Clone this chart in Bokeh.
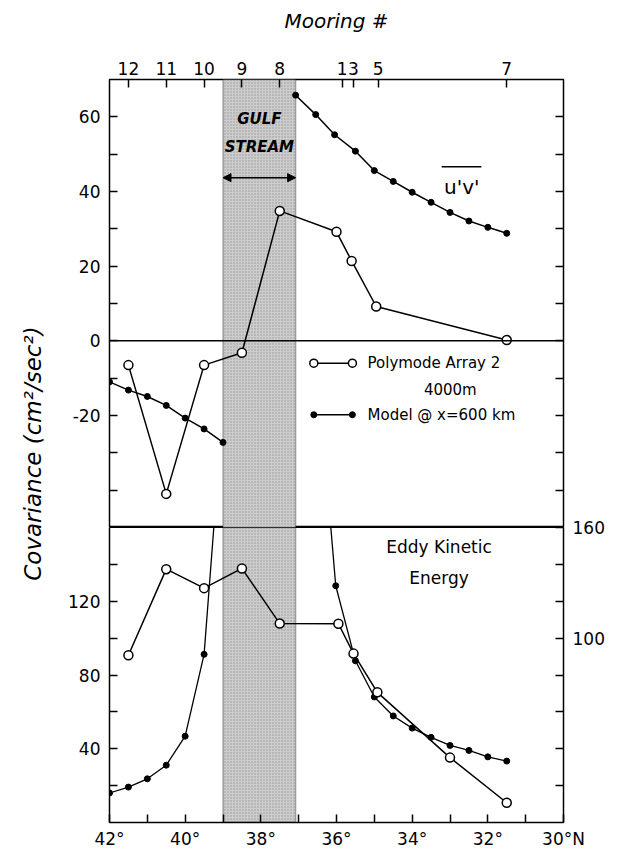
import math
from bokeh.plotting import figure
from bokeh.models import (Range1d, LinearAxis, FixedTicker, Span, BoxAnnotation,
                          Label, Arrow, NormalHead)
from bokeh.layouts import row, column
from bokeh.embed import file_html
from bokeh.resources import INLINE
from bokeh.core.properties import value

FONT = "DejaVu Sans"

# ---------------- data ----------------
mooring_lat = [41.5, 40.5, 39.5, 38.5, 37.5, 35.85, 35.55, 34.9, 31.5]
mooring_ids = ["12", "11", "10", "9", "8", "1", "3", "5", "7"]

gulf_north = 39.0
gulf_south = 37.08

# upper panel: u'v'
poly_uv_lat = [41.5, 40.5, 39.5, 38.5, 37.5, 36.0, 35.6, 34.95, 31.5]
poly_uv = [-6.5, -41.0, -6.5, -3.2, 34.8, 29.2, 21.4, 9.2, 0.2]
model_uv_n_lat = [42.0, 41.5, 41.0, 40.5, 40.0, 39.5, 39.0]
model_uv_n = [-11.0, -13.2, -14.9, -17.3, -20.7, -23.6, -27.2]
model_uv_s_lat = [37.08, 36.55, 36.05, 35.5, 35.0, 34.5, 34.0, 33.5, 33.0, 32.5, 32.0, 31.5]
model_uv_s = [65.8, 60.6, 55.2, 50.8, 45.6, 42.7, 39.8, 37.1, 34.4, 32.1, 30.4, 28.8]

# lower panel: eddy kinetic energy
poly_eke_lat = [41.5, 40.5, 39.5, 38.5, 37.5, 35.95, 35.55, 34.92, 33.0, 31.5]
poly_eke = [90.7, 137.4, 127.1, 137.8, 107.9, 107.8, 91.6, 70.6, 35.2, 10.7]
model_eke_n_lat = [42.0, 41.5, 41.0, 40.5, 40.0, 39.5, 39.0]
model_eke_n = [16.0, 19.2, 23.7, 31.1, 46.8, 91.2, 225.0]
model_eke_s_lat = [36.55, 36.02, 35.5, 35.0, 34.5, 34.0, 33.5, 33.0, 32.5, 32.0, 31.5]
model_eke_s = [257.0, 128.4, 87.7, 68.1, 57.8, 51.2, 46.2, 41.8, 39.1, 35.6, 33.3]

# ticks
lat_ticks = [42, 41, 40, 39, 38, 37, 36, 35, 34, 33, 32, 31, 30]
lat_labels = {42: "42°", 40: "40°", 38: "38°", 36: "36°", 34: "34°", 32: "32°", 30: "30°N"}
uv_ticks = [-40, -30, -20, -10, 0, 10, 20, 30, 40, 50, 60]
uv_labels = {60: "60", 40: "40", 20: "20", 0: "0", -20: "-20"}
eke_ticks = [20, 40, 60, 80, 100, 120, 140]
eke_left_labels = {40: "40", 80: "80", 120: "120"}
eke_right_ticks = [20, 40, 60, 80, 100, 120, 140, 160]
eke_right_labels = {100: "100", 160: "160"}

# ---------------- layout ----------------
LW = 55
W = 562
OV = 10
x_range = Range1d(42, 30)


def style_axis(ax, ticks, labels, size="17px", standoff=8):
    ax.ticker = FixedTicker(ticks=ticks)
    ax.major_label_overrides = {t: labels.get(t, "") for t in ticks}
    ax.major_tick_in = 8
    ax.major_tick_out = 0
    ax.minor_tick_line_color = None
    ax.major_tick_line_color = "black"
    ax.major_tick_line_width = 1.5
    ax.axis_line_color = None
    ax.major_label_text_font = FONT
    ax.major_label_text_font_size = size
    ax.major_label_text_color = "black"
    ax.major_label_standoff = standoff


def base_fig(height, y_range, **kw):
    p = figure(width=W, height=height, x_range=x_range, y_range=y_range,
               toolbar_location=None, output_backend="svg", **kw)
    p.grid.visible = False
    p.outline_line_color = "black"
    p.outline_line_width = 1.5
    p.min_border_left = 54
    p.min_border_right = 54
    return p


def band(p):
    p.add_layout(BoxAnnotation(left=gulf_north, right=gulf_south, level="underlay",
                               fill_color="#cdcdcd", fill_alpha=1.0,
                               hatch_pattern="dot", hatch_color="#8a8a8a",
                               hatch_scale=3, hatch_weight=1, hatch_alpha=0.8,
                               line_color="black", line_width=1.5))


# ---- top panel ----
top = base_fig(527, Range1d(-50, 70), x_axis_location="above")
top.min_border_top = 79
top.min_border_bottom = 0
band(top)
top.add_layout(Span(location=0, dimension="width", line_color="black", line_width=1.5))

xa = top.xaxis[0]
style_axis(xa, mooring_lat, dict(zip(mooring_lat, mooring_ids)), standoff=5)
xa.axis_label = "Mooring #"
xa.axis_label_text_font = FONT
xa.axis_label_text_font_style = "italic"
xa.axis_label_text_font_size = "20px"
xa.axis_label_text_color = "black"
xa.axis_label_standoff = 26

style_axis(top.yaxis[0], uv_ticks, uv_labels, standoff=9)
ra = LinearAxis()
style_axis(ra, uv_ticks, {}, standoff=9)
top.add_layout(ra, "right")

top.line(model_uv_n_lat, model_uv_n, line_color="black", line_width=1.5)
top.scatter(model_uv_n_lat, model_uv_n, size=6, color="black")
top.line(model_uv_s_lat, model_uv_s, line_color="black", line_width=1.5)
top.scatter(model_uv_s_lat, model_uv_s, size=6, color="black")
top.line(poly_uv_lat, poly_uv, line_color="black", line_width=1.5)
top.scatter(poly_uv_lat, poly_uv, size=9, fill_color="white", line_color="black", line_width=1.5)

# gulf stream annotation
for txt, yv in (("GULF", 59.3), ("STREAM", 51.9)):
    top.add_layout(Label(x=(gulf_north + gulf_south) / 2, y=yv, text=txt,
                         text_font=FONT, text_font_size="15px", text_font_style="bold italic",
                         text_align="center", text_baseline="middle", text_color="black"))
top.add_layout(Arrow(x_start=gulf_north, x_end=gulf_south, y_start=43.7, y_end=43.7,
                     line_color="black", line_width=1.5,
                     start=NormalHead(size=8, fill_color="black", line_color="black"),
                     end=NormalHead(size=8, fill_color="black", line_color="black")))

# u'v' label with overbar
top.add_layout(Label(x=32.69, y=41.3, text="u'v'", text_font=FONT, text_font_size="20px",
                     text_align="center", text_baseline="middle", text_color="black"))
top.segment(x0=[33.22], y0=[46.6], x1=[32.17], y1=[46.6], line_color="black", line_width=1.5)

# legend
leg_x0, leg_x1, leg_tx = 36.6, 35.58, 35.18
top.line([leg_x0, leg_x1], [-6.0, -6.0], line_color="black", line_width=1.5)
top.scatter([leg_x0, leg_x1], [-6.0, -6.0], size=8, fill_color="white", line_color="black", line_width=1.5)
top.line([leg_x0, leg_x1], [-19.8, -19.8], line_color="black", line_width=1.5)
top.scatter([leg_x0, leg_x1], [-19.8, -19.8], size=6, color="black")
for txt, xv, yv in (("Polymode Array 2", leg_tx, -6.0), ("4000m", 33.69, -13.2),
                    ("Model @ x=600 km", leg_tx, -19.8)):
    top.add_layout(Label(x=xv, y=yv, text=txt, text_font=FONT, text_font_size="15px",
                         text_align="left", text_baseline="middle", text_color="black"))

# ---- bottom panel ----
bot = base_fig(OV + 298 + 26, Range1d(0, 160), x_axis_location="below")
bot.min_border_top = OV
bot.min_border_bottom = 26
bot.border_fill_color = None
bot.outline_line_width = 1.0
bot.margin = (-OV, 0, 0, 0)
band(bot)

style_axis(bot.xaxis[0], lat_ticks, lat_labels, standoff=6)
style_axis(bot.yaxis[0], eke_ticks, eke_left_labels, standoff=9)
ra2 = LinearAxis()
style_axis(ra2, eke_right_ticks, eke_right_labels, standoff=9)
bot.add_layout(ra2, "right")
for ax in (bot.xaxis[0], bot.yaxis[0], ra2):
    ax.axis_line_color = "black"
    ax.axis_line_width = 1.5

bot.line(model_eke_n_lat, model_eke_n, line_color="black", line_width=1.3)
bot.scatter(model_eke_n_lat, model_eke_n, size=6, color="black")
bot.line(model_eke_s_lat, model_eke_s, line_color="black", line_width=1.3)
bot.scatter(model_eke_s_lat, model_eke_s, size=6, color="black")
bot.line(poly_eke_lat, poly_eke, line_color="black", line_width=1.5)
bot.scatter(poly_eke_lat, poly_eke, size=9, fill_color="white", line_color="black", line_width=1.5)

for txt, yv in (("Eddy Kinetic", 149.3), ("Energy", 132.5)):
    bot.add_layout(Label(x=33.29, y=yv, text=txt, text_font=FONT, text_font_size="17px",
                         text_align="center", text_baseline="middle", text_color="black"))

# ---- shared y label ----
lab = figure(width=LW, height=851, x_range=Range1d(0, 1), y_range=Range1d(0, 1),
             x_axis_location=None, y_axis_location=None, toolbar_location=None,
             output_backend="svg", min_border=0)
lab.outline_line_color = None
lab.grid.visible = False
lab.add_layout(Label(x=32 / LW, y=(851 - 453) / 851, text="Covariance (cm²/sec²)",
                     angle=math.pi / 2, text_font=FONT, text_font_size="23px",
                     text_font_style="italic", text_align="center", text_baseline="middle",
                     text_color="black"))

layout = row(lab, column(top, bot, spacing=0), spacing=0)
open("out.html", "w").write(file_html(layout, INLINE))
